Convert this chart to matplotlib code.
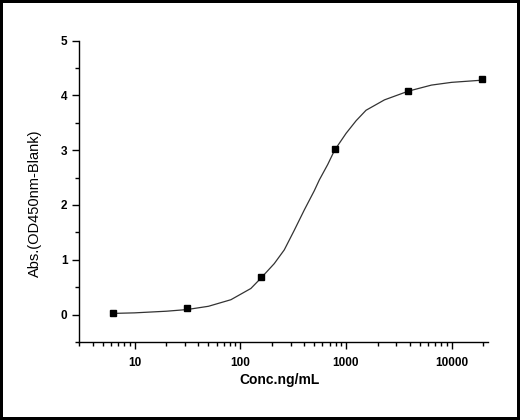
import matplotlib
matplotlib.use("Agg")
import matplotlib.pyplot as plt
from matplotlib.ticker import LogLocator, MultipleLocator, NullFormatter, FixedLocator, FixedFormatter

# Measured standards
conc = [6.25, 31.25, 156.25, 781.25, 3906.25, 19531.25]
absorb = [0.02, 0.11, 0.68, 3.02, 4.08, 4.30]

# Fitted curve
curve_x = [6.25, 10, 20, 31.25, 50, 81.6, 126, 156.25, 210, 261, 325, 404,
           502, 561, 673, 781.25, 1005, 1250, 1550, 2317, 3906.25, 6450,
           10000, 19531.25]
curve_y = [0.02, 0.03, 0.06, 0.09, 0.15, 0.27, 0.475, 0.66, 0.93, 1.18, 1.54,
           1.91, 2.26, 2.46, 2.74, 3.00, 3.31, 3.54, 3.73, 3.92, 4.08, 4.19,
           4.24, 4.28]

xtick_vals = [10, 100, 1000, 10000]
xtick_labels = ["10", "100", "1000", "10000"]

plt.rcParams['font.family'] = ['Liberation Sans', 'DejaVu Sans']

fig = plt.figure(figsize=(5.2, 4.2), dpi=100)
fig.patch.set_edgecolor('black')
fig.patch.set_linewidth(3)
ax = fig.add_axes([0.1525, 0.186, 0.7855, 0.717])

ax.plot(curve_x, curve_y, color='#333333', linewidth=0.9)
ax.plot(conc, absorb, linestyle='none', marker='s', markersize=4.5, color='black')

ax.set_xscale('log')
ax.set_xlim(3, 22000)
ax.set_ylim(-0.5, 5)

ax.xaxis.set_major_locator(FixedLocator(xtick_vals))
ax.xaxis.set_major_formatter(FixedFormatter(xtick_labels))
ax.xaxis.set_minor_locator(LogLocator(base=10, subs=range(2, 10)))
ax.xaxis.set_minor_formatter(NullFormatter())
ax.yaxis.set_major_locator(FixedLocator([0, 1, 2, 3, 4, 5]))
ax.yaxis.set_minor_locator(MultipleLocator(0.5))

for s in ['top', 'right']:
    ax.spines[s].set_visible(False)
for s in ['left', 'bottom']:
    ax.spines[s].set_linewidth(1.0)
ax.spines['left'].set_bounds(-0.5, 5)

ax.tick_params(which='major', direction='out', length=5, width=1, labelsize=8.5)
ax.tick_params(axis='x', which='major', pad=6)
ax.tick_params(which='minor', direction='out', length=3, width=1)
for lbl in ax.get_xticklabels() + ax.get_yticklabels():
    lbl.set_fontweight('bold')

ax.set_xlabel("Conc.ng/mL", fontsize=10, fontweight='bold')
ax.xaxis.set_label_coords(0.491, -0.103)
ax.set_ylabel("Abs.(OD450nm-Blank)", fontsize=10.5)
ax.yaxis.set_label_coords(-0.091, 0.459)

fig.savefig("out.png", dpi=100, edgecolor=fig.get_edgecolor())
